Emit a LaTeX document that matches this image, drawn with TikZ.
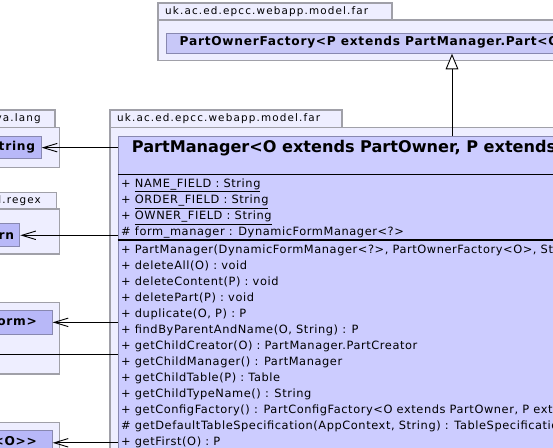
\documentclass[tikz,border=0pt]{standalone}
\usepackage{fontspec}
\setmainfont{DejaVu Sans}
\newfontfamily\tabfont[LetterSpace=11]{DejaVu Sans}
\newfontfamily\memfont[LetterSpace=5]{DejaVu Sans}
\newfontfamily\namefont[LetterSpace=6]{DejaVu Sans}
\usetikzlibrary{arrows.meta}
\definecolor{pkgfill}{HTML}{EEEEFF}
\definecolor{pkgdraw}{HTML}{A0A0A8}
\definecolor{clsfill}{HTML}{CCCCFF}
\definecolor{topfill}{HTML}{C8C8F8}
\definecolor{extfill}{HTML}{B8B8F8}
\definecolor{clsdraw}{HTML}{8888B0}
\tikzset{
  pkg/.style={draw=pkgdraw, fill=pkgfill, line width=1.1pt},
  cls/.style={draw=clsdraw, fill=clsfill, line width=1pt, inner sep=0pt, anchor=north west},
  extcls/.style={draw=clsdraw, fill=extfill, line width=1pt, inner sep=0pt, anchor=north west},
  pkglabel/.style={font=\tabfont\fontsize{10.4}{12}\selectfont, anchor=west, inner sep=0pt},
  member/.style={font=\memfont\fontsize{11.4}{14}\selectfont, anchor=base west, inner sep=0pt},
  clsname/.style={font=\namefont\fontsize{12.2}{14}\bfseries\selectfont, inner sep=0pt},
  dep/.style={draw=black, line width=0.9pt, -{Straight Barb[length=14pt,width=8.5pt,line width=0.9pt]}},
  inh/.style={draw=black, line width=0.9pt, -{Triangle[open, length=15.6pt, width=12.7pt, line width=0.9pt, fill=white]}},
}
\begin{document}
\begin{tikzpicture}[x=1pt,y=-1pt]
\useasboundingbox (0,0) rectangle (553,447);
\clip (0,0) rectangle (553,447);
\fill[white] (0,0) rectangle (553,447);

% ---- top package
\path[pkg] (158,3) rectangle (392,20);
\node[pkglabel] (toptab) at (165,11.5) {uk.ac.ed.epcc.webapp.model.far};
\path[pkg] (158,20) rectangle (700,60.7);
\node[cls, fill=topfill, minimum width=500pt, minimum height=19.7pt] (pof) at (166,33) {};
\node[clsname, anchor=west] (pofname) at (179.5,42.5) {PartOwnerFactory<P extends PartManager.Part<O>>};

% ---- main package
\path[pkg] (110,110) rectangle (342,127.3);
\node[pkglabel] (mainTab) at (117,118.7) {uk.ac.ed.epcc.webapp.model.far};
\path[pkg] (110,127.3) rectangle (700,700);
\node[cls, minimum width=600pt, minimum height=400pt] (pm) at (117.7,136) {};
\node[font=\fontsize{16.1}{18}\bfseries\selectfont, inner sep=0pt, anchor=west] (pmname) at (131.7,147.7) {PartManager<O extends PartOwner, P extends PartManager.Part<O>>};
\draw[black, line width=0.9pt] (117.7,174) -- (700,174);
\draw[black, line width=2pt] (117.7,239.5) -- (700,239.5);

% attributes
\node[member] (a1) at (121,187.6) {+ \underline{NAME\_FIELD : String}};
\node[member] (a2) at (121,203.8) {+ \underline{ORDER\_FIELD : String}};
\node[member] (a3) at (121,219.8) {+ \underline{OWNER\_FIELD : String}};
\node[member] (a4) at (121,235.8) {\# form\_manager : DynamicFormManager<?>};

% methods
\node[member] (m1)  at (121,253.8) {+ PartManager(DynamicFormManager<?>, PartOwnerFactory<O>, String)};
\node[member] (m2)  at (121,269.9) {+ deleteAll(O) : void};
\node[member] (m3)  at (121,285.9) {+ deleteContent(P) : void};
\node[member] (m4)  at (121,301.6) {+ deletePart(P) : void};
\node[member] (m5)  at (121,317.6) {+ duplicate(O, P) : P};
\node[member] (m6)  at (121,333.6) {+ findByParentAndName(O, String) : P};
\node[member] (m7)  at (121,349.3) {+ getChildCreator(O) : PartManager.PartCreator};
\node[member] (m8)  at (121,365.3) {+ getChildManager() : PartManager};
\node[member] (m9)  at (121,381.3) {+ getChildTable(P) : Table};
\node[member] (m10) at (121,397.3) {+ getChildTypeName() : String};
\node[member] (m11) at (121,413.3) {+ getConfigFactory() : PartConfigFactory<O extends PartOwner, P extends>};
\node[member] (m12) at (121,429.0) {\# getDefaultTableSpecification(AppContext, String) : TableSpecification};
\node[member] (m13) at (121,445.0) {+ getFirst(O) : P};

% ---- left packages
\path[pkg] (-60,110) rectangle (55,127.3);
\node[pkglabel, anchor=east] (langtab) at (41,118.7) {java.lang};
\path[pkg] (-60,127.3) rectangle (59.3,167.3);
\node[extcls, minimum width=100.7pt, minimum height=22.3pt] (str) at (-60,136) {};
\node[clsname, anchor=east] (strname) at (35.3,147.2) {String};

\path[pkg] (-60,192.3) rectangle (56.7,209);
\node[pkglabel, anchor=east] (regextab) at (41,200.7) {java.util.regex};
\path[pkg] (-60,209) rectangle (59.3,254);
\node[extcls, minimum width=79.3pt, minimum height=23pt] (pat) at (-60,223.3) {};
\node[clsname, anchor=east] (patname) at (14.3,234.8) {Pattern};

\path[pkg] (-60,302.3) rectangle (59.3,374);
\node[extcls, minimum width=111.7pt, minimum height=23.7pt] (frm) at (-60,310) {};
\node[clsname, anchor=east] (frmname) at (37,321.9) {DynamicForm>};

\path[pkg] (-60,422.7) rectangle (59.3,700);
\node[extcls, minimum width=111.7pt, minimum height=24.6pt] (own) at (-60,430) {};
\node[clsname, anchor=east] (ownname) at (37,442.3) {Factory<O>>};

\coordinate (offleft) at (-10,354);
\coordinate (inhx) at (452,0);

% ---- connectors
\draw[inh] (pm.north -| inhx) -- (pof.south -| inhx);
\draw[dep] (pm.west |- str.east) -- (str.east);
\draw[dep] (pm.west |- pat.east) -- (pat.east);
\draw[dep] (pm.west |- frm.east) -- (frm.east);
\draw[line width=0.9pt] (pm.west |- offleft) -- (offleft);
\draw[dep] (pm.west |- own.east) -- (own.east);
\end{tikzpicture}
\end{document}
